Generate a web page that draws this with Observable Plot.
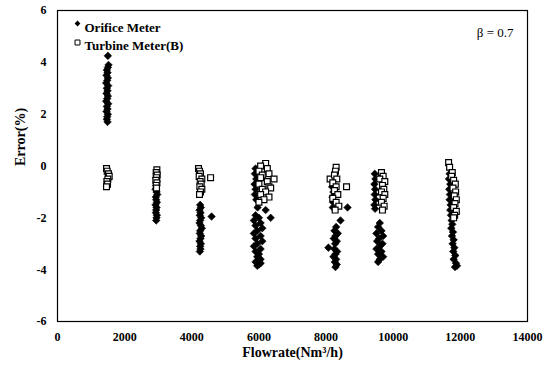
<!DOCTYPE html>
<html><head><meta charset="utf-8">
<script src="https://cdn.jsdelivr.net/npm/d3@7"></script>
<script src="https://cdn.jsdelivr.net/npm/@observablehq/plot@0.6"></script>
<style>body{margin:0;background:#fff}</style>
</head><body><div id="chart"></div>
<script>
const xTicks = [0, 2000, 4000, 6000, 8000, 10000, 12000, 14000];
const yTicks = [-6, -4, -2, 0, 2, 4, 6];
const seriesNames = ["Orifice Meter", "Turbine Meter(B)"];
const annotation = "β = 0.7";

const orificeFlow = [
  1500,1520,1500,1470,1490,1460,1500,1480,1450,1510,1470,1490,1460,1500,1480,1450,1510,1470,1490,1460,1500,1480,1470,1490,
  2950,2930,2960,2940,2920,2950,2970,2930,2940,2960,2920,2950,2940,2930,2960,2950,2940,
  4250,4270,4230,4260,4590,4240,4280,4250,4230,4270,4300,4250,4240,4280,4260,4230,4270,4250,4260,4240,
  5900,5880,5920,5870,5900,5880,5920,
  5960,6200,6350,5900,6000,5850,6050,5900,6100,5950,5850,6050,5900,6100,5950,5850,6050,5900,6000,5950,6050,5900,6000,5950,6050,
  8200,8180,8220,8190,8210,8200,8640,8430,
  8300,8250,8350,8280,8230,8320,8270,8070,8250,8330,8280,8220,8300,8260,8320,8280,
  9450,9470,9440,9460,9450,9470,9440,9460,
  9600,9550,9650,9500,9700,9580,9520,9680,9600,9500,9650,9550,9700,9600,9550,
  11680,11660,11700,11670,11690,11680,11710,11700,11720,11740,11760,11730,11780,11750,11800,11770,11820,11790,11850,11800,11870,11840,11900
];
const orificeError = [
  4.25,3.9,3.8,3.7,3.6,3.5,3.4,3.3,3.2,3.1,3.0,2.9,2.8,2.7,2.6,2.5,2.4,2.3,2.2,2.1,2.0,1.9,1.8,1.7,
  -0.3,-0.45,-0.6,-0.75,-0.9,-1.0,-1.1,-1.2,-1.3,-1.4,-1.5,-1.6,-1.7,-1.8,-1.9,-2.0,-2.1,
  -1.5,-1.6,-1.7,-1.8,-1.95,-1.9,-2.0,-2.1,-2.2,-2.3,-2.4,-2.5,-2.6,-2.7,-2.8,-2.9,-3.0,-3.1,-3.2,-3.3,
  -0.1,-0.3,-0.5,-0.7,-0.9,-1.1,-1.3,
  -1.6,-1.7,-2.0,-1.9,-2.0,-2.1,-2.2,-2.3,-2.4,-2.5,-2.6,-2.7,-2.8,-2.9,-3.0,-3.1,-3.2,-3.3,-3.4,-3.5,-3.6,-3.7,-3.8,-3.85,-3.75,
  -0.6,-0.8,-1.0,-1.2,-1.4,-1.6,-1.6,-2.1,
  -2.35,-2.5,-2.6,-2.7,-2.8,-2.9,-3.0,-3.15,-3.2,-3.3,-3.4,-3.5,-3.6,-3.7,-3.8,-3.9,
  -0.3,-0.5,-0.7,-0.9,-1.1,-1.3,-1.5,-1.65,
  -2.2,-2.35,-2.5,-2.6,-2.7,-2.8,-2.9,-3.0,-3.1,-3.2,-3.3,-3.4,-3.5,-3.6,-3.7,
  -0.3,-0.5,-0.7,-0.9,-1.1,-1.3,-1.5,-1.7,-1.9,-2.1,-2.25,-2.4,-2.55,-2.7,-2.85,-3.0,-3.15,-3.3,-3.45,-3.6,-3.75,-3.9,-3.85
];

const turbineFlow = [
  1460,1480,1520,1540,1500,1470,1490,1460,
  2960,2940,2970,2950,2930,2960,2940,2950,
  4200,4230,4260,4220,4560,4300,4250,4280,4240,4300,4260,4230,
  6200,6050,6250,6000,6300,6100,6450,6050,6250,6000,6300,6100,6350,6200,6050,6300,6150,6000,
  8300,8280,8120,8250,8320,8200,8610,8300,8250,8350,8200,8300,8380,8270,
  9650,9700,9600,9750,9680,9720,9650,9750,9700,9650,9730,9680,
  11650,11680,11760,11740,11800,11850,11780,11860,11820,11880,11840,11800,11880,11830,11800
];
const turbineError = [
  -0.1,-0.2,-0.3,-0.4,-0.5,-0.6,-0.7,-0.8,
  -0.15,-0.25,-0.35,-0.45,-0.55,-0.65,-0.75,-0.85,
  -0.1,-0.2,-0.3,-0.4,-0.45,-0.5,-0.6,-0.7,-0.8,-0.9,-1.0,-1.1,
  0.1,0.0,-0.1,-0.2,-0.3,-0.35,-0.5,-0.45,-0.6,-0.7,-0.8,-0.9,-0.85,-1.0,-1.1,-1.2,-1.3,-1.4,
  -0.05,-0.2,-0.5,-0.35,-0.5,-0.65,-0.8,-0.8,-0.95,-1.1,-1.25,-1.4,-1.55,-1.7,
  -0.25,-0.4,-0.5,-0.6,-0.75,-0.9,-1.0,-1.1,-1.25,-1.4,-1.55,-1.7,
  0.13,-0.05,-0.25,-0.4,-0.55,-0.7,-0.85,-1.0,-1.15,-1.3,-1.45,-1.6,-1.75,-1.9,-2.0
];

const orifice = orificeFlow.map((x, i) => ({x, y: orificeError[i]}));
const turbine = turbineFlow.map((x, i) => ({x, y: turbineError[i]}));
const font = "'Liberation Serif', 'Times New Roman', serif";

const chart = Plot.plot({
  width: 556,
  height: 370,
  marginLeft: 57,
  marginRight: 29,
  marginTop: 10,
  marginBottom: 49,
  style: {fontFamily: font, background: "#fff", color: "#000"},
  x: {domain: [0, 14000]},
  y: {domain: [-6, 6]},
  marks: [
    Plot.frame({stroke: "#000", strokeWidth: 1.2}),
    Plot.axisX({ticks: xTicks, tickSize: 0, tickPadding: 11, tickFormat: d => String(d), fontSize: 12, fontWeight: "bold", fill: "#000", label: null}),
    Plot.axisY({ticks: yTicks, tickSize: 0, tickPadding: 11, tickFormat: d => String(d), fontSize: 12, fontWeight: "bold", fill: "#000", label: null}),
    Plot.text(["Flowrate(Nm³/h)"], {frameAnchor: "bottom", dy: 35, fontSize: 14, fontWeight: "bold", fill: "#000"}),
    Plot.text(["Error(%)"], {frameAnchor: "left", dx: -37, rotate: -90, fontSize: 14, fontWeight: "bold", fill: "#000"}),
    Plot.dot(orifice, {x: "x", y: "y", symbol: "diamond2", r: 3.4, fill: "#000", stroke: "#000", strokeWidth: 0.6}),
    Plot.dot(turbine, {x: "x", y: "y", symbol: "square", r: 3.3, fill: "#fff", stroke: "#000", strokeWidth: 1.2}),
    Plot.dot([seriesNames[0]], {frameAnchor: "top-left", dx: 20, dy: 13, symbol: "diamond2", r: 2.6, fill: "#000"}),
    Plot.dot([seriesNames[1]], {frameAnchor: "top-left", dx: 20, dy: 32, symbol: "square", r: 2.8, fill: "#fff", stroke: "#000", strokeWidth: 1}),
    Plot.text([seriesNames[0]], {frameAnchor: "top-left", dx: 27, dy: 12, textAnchor: "start", fontSize: 13, fontWeight: "bold", fill: "#000"}),
    Plot.text([seriesNames[1]], {frameAnchor: "top-left", dx: 27, dy: 30, textAnchor: "start", fontSize: 13, fontWeight: "bold", fill: "#000"}),
    Plot.text([annotation], {frameAnchor: "top-right", dx: -14, dy: 17, textAnchor: "end", fontSize: 13, fill: "#000"})
  ]
});
document.getElementById("chart").appendChild(chart);
</script>
</body></html>
